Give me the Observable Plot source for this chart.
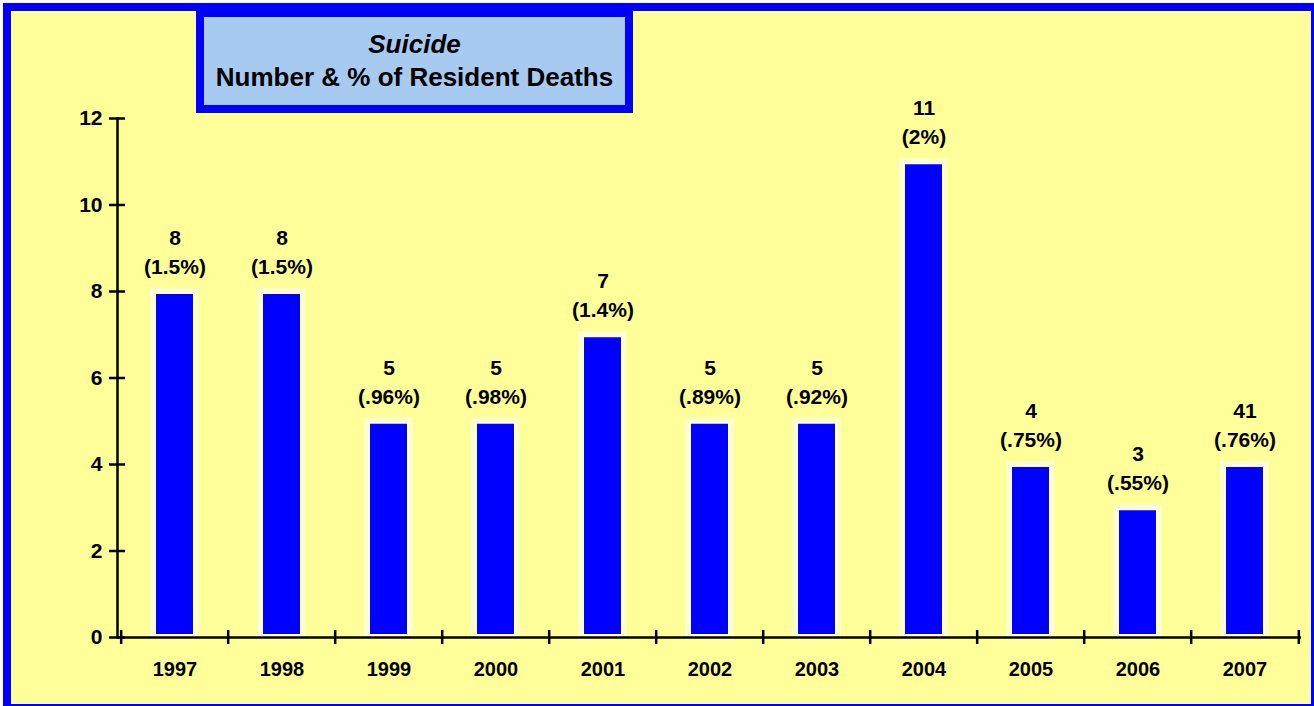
<!DOCTYPE html>
<html>
<head>
<meta charset="utf-8">
<script src="https://cdn.jsdelivr.net/npm/d3@7"></script>
<script src="https://cdn.jsdelivr.net/npm/@observablehq/plot@0.6"></script>
<style>
  html, body { margin: 0; padding: 0; width: 1314px; height: 706px; overflow: hidden; background: #fff; }
  body { position: relative; font-family: "Liberation Sans", Arial, sans-serif; }
  #frame { position: absolute; left: 3px; top: 3px; width: 1316px; height: 709px; box-sizing: border-box;
           border: 8px solid #0000ff; background: #ffff99; }
  #title { position: absolute; left: 196px; top: 9px; width: 437px; height: 104px; box-sizing: border-box;
           border: 8px solid #0000ff; background: #a6caf0; text-align: center; font-weight: bold;
           font-size: 26px; color: #000; padding-top: 11px; line-height: 33px; z-index: 2; }
  #title .l1 { font-style: italic; }
  #chart { position: absolute; left: 0; top: 0; z-index: 1; }
</style>
</head>
<body>
<div id="frame"></div>
<div id="chart"></div>
<div id="title"><div class="l1">Suicide</div><div>Number &amp; % of Resident Deaths</div></div>
<script>
const years = ["1997","1998","1999","2000","2001","2002","2003","2004","2005","2006","2007"];
const counts = [8, 8, 5, 5, 7, 5, 5, 11, 4, 3, 4];
const countLabels = ["8","8","5","5","7","5","5","11","4","3","41"];
const pctLabels = ["(1.5%)","(1.5%)","(.96%)","(.98%)","(1.4%)","(.89%)","(.92%)","(2%)","(.75%)","(.55%)","(.76%)"];
const yTicks = [0, 2, 4, 6, 8, 10, 12];

const data = years.map((year, i) => ({year, count: counts[i], top: countLabels[i], pct: pctLabels[i]}));

const W = 1314, H = 706;
const mL = 117, mR = 13, mT = 118, mB = 69;
const half = (W - mL - mR) / years.length / 2;
const font = "Liberation Sans, Arial, sans-serif";

const chart = Plot.plot({
  width: W,
  height: H,
  marginLeft: mL,
  marginRight: mR,
  marginTop: mT,
  marginBottom: mB,
  style: {background: "transparent", fontFamily: font, color: "#000", overflow: "visible"},
  x: {type: "band", domain: years, paddingInner: 0.6, paddingOuter: 0.3, label: null},
  y: {domain: [0, 12], label: null},
  marks: [
    Plot.barY(data, {x: "year", y: "count", fill: "#0000ff", stroke: "#ffffcc", strokeWidth: 6}),
    Plot.frame({anchor: "left", stroke: "#000", strokeWidth: 2.5}),
    Plot.ruleY([0], {stroke: "#000", strokeWidth: 2.5}),
    Plot.axisY({ticks: yTicks, tickSize: 16, dx: 8, tickFormat: () => "", stroke: "#000", strokeWidth: 2.5, label: null}),
    Plot.axisX({ticks: years, tickSize: 14, dy: -7, dx: -half, tickFormat: () => "", stroke: "#000", strokeWidth: 2.5, label: null}),
    Plot.axisX({ticks: [years[years.length - 1]], tickSize: 14, dy: -7, dx: half, tickFormat: () => "", stroke: "#000", strokeWidth: 2.5, label: null}),
    Plot.text(yTicks, {y: d => d, frameAnchor: "left", dx: -15, textAnchor: "end", text: d => String(d),
      fontSize: 21, fontWeight: "bold", fill: "#000"}),
    Plot.text(years, {x: d => d, frameAnchor: "bottom", dy: 32, lineAnchor: "middle", text: d => d,
      fontSize: 20, fontWeight: "bold", fill: "#000"}),
    Plot.text(data, {x: "year", y: "count", text: "top", dy: -53, lineAnchor: "middle",
      fontSize: 21, fontWeight: "bold", fill: "#000"}),
    Plot.text(data, {x: "year", y: "count", text: "pct", dy: -24, lineAnchor: "middle",
      fontSize: 21, fontWeight: "bold", fill: "#000"})
  ]
});
document.getElementById("chart").appendChild(chart);
</script>
</body>
</html>
